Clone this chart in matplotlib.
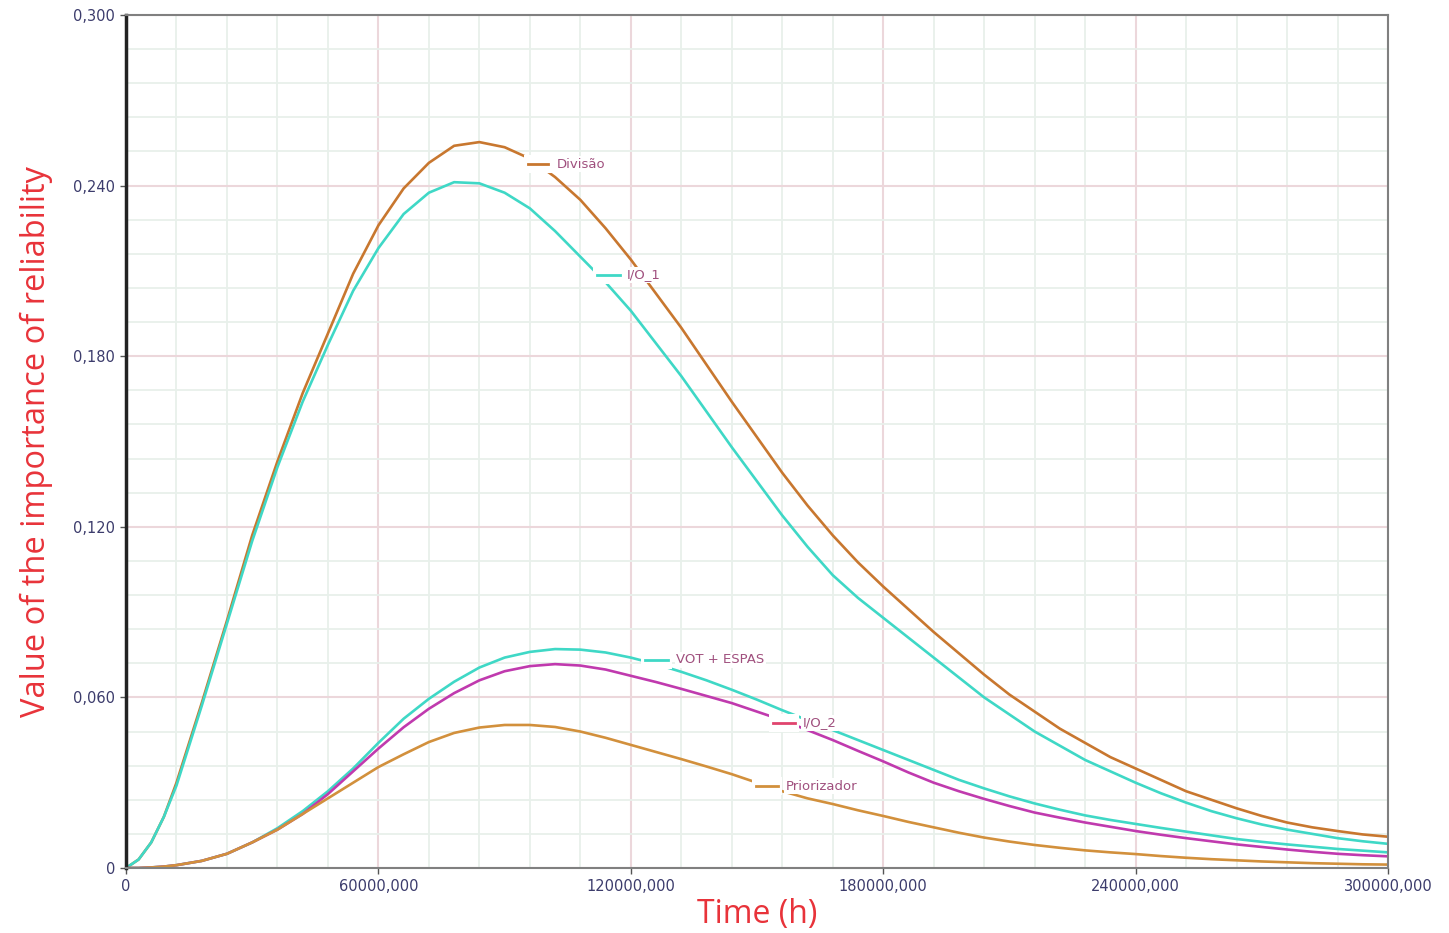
import numpy as np
import matplotlib.pyplot as plt
from matplotlib.ticker import MultipleLocator, FuncFormatter

# time in thousands of hours, read along the grid
t_k = [0, 3, 6, 9, 12, 18, 24, 30, 36, 42, 48, 54, 60, 66, 72, 78, 84, 90, 96, 102, 108, 114,
       120, 126, 132, 138, 144, 150, 156, 162, 168, 174, 180, 186, 192, 198, 204, 210, 216,
       222, 228, 234, 240, 246, 252, 258, 264, 270, 276, 282, 288, 294, 300]
time_h = np.array(t_k) * 1000.0

divisao = [0, 0.003, 0.009, 0.018, 0.030, 0.058, 0.087, 0.117, 0.143, 0.167, 0.188, 0.209,
           0.226, 0.239, 0.248, 0.254, 0.2553, 0.2535, 0.2495, 0.243, 0.235, 0.225, 0.214,
           0.202, 0.190, 0.177, 0.164, 0.1515, 0.139, 0.1275, 0.117, 0.1075, 0.099, 0.091,
           0.083, 0.0755, 0.068, 0.061, 0.055, 0.049, 0.044, 0.039, 0.035, 0.031, 0.027,
           0.024, 0.021, 0.0183, 0.016, 0.0143, 0.013, 0.0118, 0.011]
io_1 = [0, 0.003, 0.009, 0.018, 0.029, 0.057, 0.086, 0.115, 0.141, 0.164, 0.184, 0.203,
        0.218, 0.230, 0.2375, 0.2412, 0.2408, 0.2375, 0.232, 0.224, 0.215, 0.206, 0.196,
        0.1845, 0.173, 0.1605, 0.148, 0.136, 0.124, 0.113, 0.103, 0.095, 0.088, 0.081,
        0.074, 0.067, 0.060, 0.054, 0.048, 0.043, 0.038, 0.034, 0.030, 0.0263, 0.023,
        0.020, 0.0175, 0.0153, 0.0135, 0.012, 0.0105, 0.0094, 0.0085]
vot_espas = [0, 0, 0.0002, 0.0005, 0.001, 0.0025, 0.005, 0.009, 0.014, 0.020, 0.027, 0.035,
             0.044, 0.0525, 0.0595, 0.0655, 0.0705, 0.074, 0.076, 0.077, 0.0768, 0.0758,
             0.074, 0.0717, 0.069, 0.066, 0.0627, 0.0592, 0.0555, 0.052, 0.0485, 0.045,
             0.0415, 0.038, 0.0345, 0.031, 0.028, 0.0252, 0.0227, 0.0205, 0.0185, 0.0169,
             0.0155, 0.0141, 0.0128, 0.0115, 0.0102, 0.0092, 0.0083, 0.0075, 0.0067,
             0.0061, 0.0055]
io_2 = [0, 0, 0.0002, 0.0005, 0.001, 0.0025, 0.005, 0.009, 0.0135, 0.019, 0.026, 0.034,
        0.042, 0.0495, 0.056, 0.0615, 0.066, 0.0692, 0.071, 0.0717, 0.0712, 0.0698, 0.0676,
        0.0654, 0.063, 0.0605, 0.058, 0.055, 0.052, 0.0485, 0.045, 0.0412, 0.0375, 0.0336,
        0.030, 0.027, 0.0243, 0.0218, 0.0195, 0.0177, 0.016, 0.0145, 0.013, 0.0117,
        0.0105, 0.0094, 0.0083, 0.0074, 0.0065, 0.0057, 0.005, 0.0045, 0.0041]
priorizador = [0, 0, 0.0002, 0.0005, 0.001, 0.0025, 0.005, 0.009, 0.0135, 0.019, 0.0245,
               0.030, 0.0355, 0.040, 0.0443, 0.0475, 0.0494, 0.0503, 0.0503, 0.0496, 0.048,
               0.0458, 0.0433, 0.0408, 0.0383, 0.0357, 0.033, 0.030, 0.027, 0.0245, 0.0225,
               0.0203, 0.0183, 0.0162, 0.0143, 0.0124, 0.0107, 0.0093, 0.0081, 0.0071,
               0.0062, 0.0055, 0.0049, 0.0042, 0.0036, 0.0031, 0.0027, 0.0023, 0.002,
               0.0017, 0.0015, 0.0013, 0.0012]

names = ['Divisão', 'I/O_1', 'VOT + ESPAS', 'I/O_2', 'Priorizador']
series = [divisao, io_1, vot_espas, io_2, priorizador]
colors = ['#c8772f', '#3fd8c6', '#3fd8c6', '#c03aae', '#d2903c']
dash_colors = ['#c8772f', '#3fd8c6', '#3fd8c6', '#e0446e', '#d2903c']
# inline label: dash start, dash end, text start (h), height
label_pos = [(95500, 100300, 102300, 0.2475),
             (112000, 117400, 119000, 0.2086),
             (123400, 128800, 130800, 0.0732),
             (153800, 159000, 160800, 0.0510),
             (149800, 155000, 156800, 0.0288)]

fig = plt.figure(figsize=(14.49, 9.33), dpi=100)
ax = fig.add_axes([126 / 1449, 65 / 933, 1262 / 1449, 853 / 933])

for vals, c in zip(series, colors):
    ax.plot(time_h, vals, color=c, lw=1.9, zorder=2, solid_joinstyle='round')

for name, (x0, x1, xt, y), dc in zip(names, label_pos, dash_colors):
    ax.plot([x0 - 900, x1 + 900], [y, y], color='white', lw=13, zorder=3,
            solid_capstyle='butt')
    ax.plot([x0, x1], [y, y], color=dc, lw=2.0, zorder=4)
    ax.text(xt, y, name, color='#a0507e', fontsize=9.5, va='center', ha='left',
            zorder=4, bbox=dict(fc='white', ec='none', pad=1.0))

ax.set_xlim(0, 300000)
ax.set_ylim(0, 0.300)
ax.xaxis.set_major_locator(MultipleLocator(60000))
ax.xaxis.set_minor_locator(MultipleLocator(12000))
ax.yaxis.set_major_locator(MultipleLocator(0.060))
ax.yaxis.set_minor_locator(MultipleLocator(0.012))


def fmt_x(v, pos):
    return '0' if v == 0 else f'{v:.3f}'.replace('.', ',')


def fmt_y(v, pos):
    return '0' if abs(v) < 1e-9 else f'{v:.3f}'.replace('.', ',')


ax.xaxis.set_major_formatter(FuncFormatter(fmt_x))
ax.yaxis.set_major_formatter(FuncFormatter(fmt_y))

ax.grid(True, which='minor', color='#e8f0eb', lw=1.3, zorder=0)
ax.grid(True, which='major', color='#ecd7db', lw=1.5, zorder=0)
ax.set_axisbelow(True)

ax.tick_params(which='major', length=4, width=1, color='#555555',
               labelsize=10.5, labelcolor='#3c3c6c', pad=4)
ax.tick_params(which='minor', length=0)

for side in ['top', 'right', 'bottom']:
    ax.spines[side].set_color('#808080')
    ax.spines[side].set_linewidth(1.5)
ax.spines['left'].set_color('#222222')
ax.spines['left'].set_linewidth(2.5)

ax.set_xlabel('Time (h)', color='#e8333a', fontsize=23, family='Open Sans', labelpad=3)
ax.set_ylabel('Value of the importance of reliability', color='#e8333a', fontsize=23.5,
              family='Open Sans', labelpad=14)

fig.savefig('out.png', dpi=100)
